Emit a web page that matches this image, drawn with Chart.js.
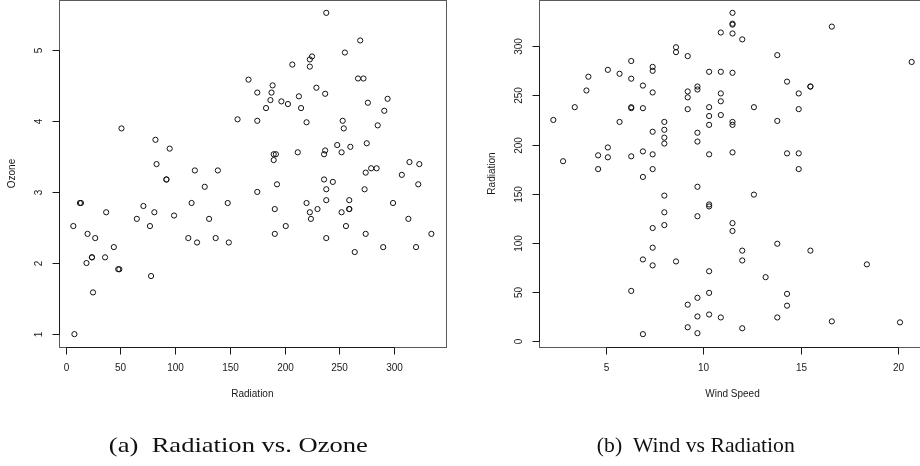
<!DOCTYPE html>
<html>
<head>
<meta charset="utf-8">
<script src="https://cdn.jsdelivr.net/npm/chart.js@4.4.1/dist/chart.umd.min.js"></script>
<style>
  html, body { margin: 0; padding: 0; background: #fff; overflow: hidden; }
  body { width: 920px; height: 466px; position: relative; }
  canvas { position: absolute; top: 0; }
  #left { left: 0; }
  #right { left: 460px; }
  .caption {
    position: absolute; top: 430px; white-space: nowrap;
    font-family: "Liberation Serif", "Times New Roman", serif;
    font-size: 21px; color: #111; line-height: 30px;
    transform-origin: center center;
  }
</style>
</head>
<body>
<canvas id="left" width="460" height="466"></canvas>
<canvas id="right" width="480" height="466"></canvas>
<div class="caption" id="capA" data-cx="238.5" data-w="259">(a)&nbsp;&nbsp;Radiation vs. Ozone</div>
<div class="caption" id="capB" data-cx="696" data-w="198">(b)&nbsp;&nbsp;Wind vs Radiation</div>
<script>
// Daily air quality readings (complete cases): solar radiation, ozone (cube-root scale), wind speed
const radiation = [190,118,149,313,299,99,19,256,290,274,65,334,307,78,322,44,8,320,25,92,
  13,252,223,279,127,291,323,148,191,284,37,120,137,269,248,236,175,314,276,267,272,175,
  264,175,48,260,274,285,187,220,7,294,223,81,82,213,275,253,254,83,24,77,255,229,207,
  192,273,157,71,51,115,244,190,259,36,212,238,215,203,225,237,188,167,197,183,189,95,92,
  252,220,230,259,236,259,238,24,112,237,224,27,238,201,238,14,139,49,20,193,191,131,223];

const ozone = [3.448,3.302,2.289,2.621,2.844,2.668,2.000,2.520,2.224,2.410,2.621,2.410,3.240,
  1.817,3.107,2.224,1.000,2.224,1.587,3.175,2.844,3.557,4.863,3.332,3.072,4.141,3.391,2.844,
  2.759,3.332,2.714,2.289,2.351,5.130,3.659,3.175,4.000,3.420,4.254,4.595,4.595,4.397,2.154,
  3.000,1.913,3.634,3.271,3.936,4.291,3.979,2.520,4.309,4.762,2.714,3.733,4.344,3.684,4.000,
  3.893,3.391,2.080,2.520,4.960,4.465,4.791,3.530,3.037,4.021,2.802,3.893,2.844,3.141,3.530,
  2.759,2.080,3.557,5.518,4.179,4.236,4.905,4.380,4.397,4.579,4.273,4.179,4.498,3.609,3.175,
  2.714,2.844,2.759,2.884,3.530,2.759,3.037,2.080,2.351,3.583,2.621,2.351,2.884,2.520,2.351,
  2.844,3.302,1.913,2.410,3.107,2.410,2.621,2.714];

const wind = [7.4,8.0,12.6,11.5,8.6,13.8,20.1,9.7,9.2,10.9,13.2,11.5,12.0,18.4,11.5,9.7,9.7,
  16.6,9.7,12.0,12.0,14.9,5.7,7.4,9.7,13.8,11.5,8.0,14.9,20.7,9.2,11.5,10.3,4.1,9.2,9.2,4.6,
  10.9,5.1,6.3,5.7,7.4,14.3,14.9,14.3,6.9,10.3,6.3,5.1,11.5,6.9,8.6,8.0,8.6,12.0,7.4,7.4,7.4,
  9.2,6.9,13.8,7.4,4.0,10.3,8.0,11.5,11.5,9.7,10.3,6.3,7.4,10.9,10.3,15.5,14.3,9.7,3.4,8.0,
  9.7,2.3,6.3,6.3,6.9,5.1,2.8,4.6,7.4,15.5,10.9,10.3,10.9,9.7,14.9,15.5,6.3,10.9,11.5,6.9,
  13.8,10.3,10.3,8.0,12.6,9.2,10.3,10.3,16.6,6.9,14.3,8.0,11.5];

// Tick labels for each axis
const radiationTicks = [0, 50, 100, 150, 200, 250, 300];
const ozoneTicks = [1, 2, 3, 4, 5];
const windTicks = [5, 10, 15, 20];

const AXIS_FONT = '10px "Liberation Sans", Arial, Helvetica, sans-serif';

// Range padded by 4% on both sides, like base R graphics
function paddedRange(values) {
  const lo = Math.min(...values), hi = Math.max(...values);
  const pad = (hi - lo) * 0.04;
  return { min: lo - pad, max: hi + pad };
}

// Draws the boxed frame, outward ticks, rotated y labels and axis titles
function boxedAxes(xTicks, yTicks, xTitle, yTitle) {
  return {
    id: 'boxedAxes',
    afterDraw(chart) {
      const ctx = chart.ctx;
      const a = chart.chartArea;
      const xs = chart.scales.x, ys = chart.scales.y;
      const L = Math.round(a.left) + 0.5, R = Math.round(a.right) + 0.5;
      const T = Math.round(a.top) + 0.5, B = Math.round(a.bottom) + 0.5;
      ctx.save();
      ctx.lineWidth = 1;
      ctx.strokeStyle = '#5a5a5a';
      ctx.strokeRect(L, T, R - L, B - T);

      ctx.strokeStyle = '#1a1a1a';
      ctx.fillStyle = '#1a1a1a';
      ctx.font = AXIS_FONT;

      // x axis
      const xp = xTicks.map(v => Math.round(xs.getPixelForValue(v)) + 0.5);
      ctx.beginPath();
      ctx.moveTo(xp[0], B); ctx.lineTo(xp[xp.length - 1], B);
      xp.forEach(p => { ctx.moveTo(p, B); ctx.lineTo(p, B + 7); });
      ctx.stroke();
      ctx.textAlign = 'center';
      ctx.textBaseline = 'middle';
      xTicks.forEach((v, i) => ctx.fillText(String(v), xp[i], B + 20.5));
      ctx.fillText(xTitle, (a.left + a.right) / 2, B + 47);

      // y axis
      const yp = yTicks.map(v => Math.round(ys.getPixelForValue(v)) + 0.5);
      ctx.beginPath();
      ctx.moveTo(L, yp[0]); ctx.lineTo(L, yp[yp.length - 1]);
      yp.forEach(p => { ctx.moveTo(L, p); ctx.lineTo(L - 7, p); });
      ctx.stroke();
      yTicks.forEach((v, i) => {
        ctx.save();
        ctx.translate(L - 20, yp[i]);
        ctx.rotate(-Math.PI / 2);
        ctx.fillText(String(v), 0, 0);
        ctx.restore();
      });
      ctx.save();
      ctx.translate(L - 47, (a.top + a.bottom) / 2);
      ctx.rotate(-Math.PI / 2);
      ctx.fillText(yTitle, 0, 0);
      ctx.restore();
      ctx.restore();
    }
  };
}

function scatter(canvasId, xs, ys, xTicks, yTicks, xTitle, yTitle, padding) {
  const xr = paddedRange(xs), yr = paddedRange(ys);
  return new Chart(document.getElementById(canvasId), {
    type: 'scatter',
    data: {
      datasets: [{
        data: xs.map((x, i) => ({ x: x, y: ys[i] })),
        pointStyle: 'circle',
        pointRadius: 2.6,
        borderWidth: 1,
        borderColor: '#111',
        backgroundColor: 'rgba(0,0,0,0)'
      }]
    },
    options: {
      responsive: false,
      animation: false,
      events: [],
      layout: { padding: padding, autoPadding: false },
      plugins: { legend: { display: false }, tooltip: { enabled: false } },
      scales: {
        x: { type: 'linear', display: false, min: xr.min, max: xr.max },
        y: { type: 'linear', display: false, min: yr.min, max: yr.max }
      }
    },
    plugins: [boxedAxes(xTicks, yTicks, xTitle, yTitle)]
  });
}

scatter('left', radiation, ozone, radiationTicks, ozoneTicks, 'Radiation', 'Ozone',
  { left: 59, right: 14.3, top: 0, bottom: 119 });
scatter('right', wind, radiation, windTicks, radiationTicks, 'Wind Speed', 'Radiation',
  { left: 79, right: 14, top: 0, bottom: 119 });

// Fit each caption to its column width and centre it
document.querySelectorAll('.caption').forEach(el => {
  const w = el.getBoundingClientRect().width;
  const target = parseFloat(el.dataset.w);
  const cx = parseFloat(el.dataset.cx);
  el.style.left = (cx - w / 2) + 'px';
  el.style.transform = 'scaleX(' + (target / w) + ')';
});
</script>
</body>
</html>
